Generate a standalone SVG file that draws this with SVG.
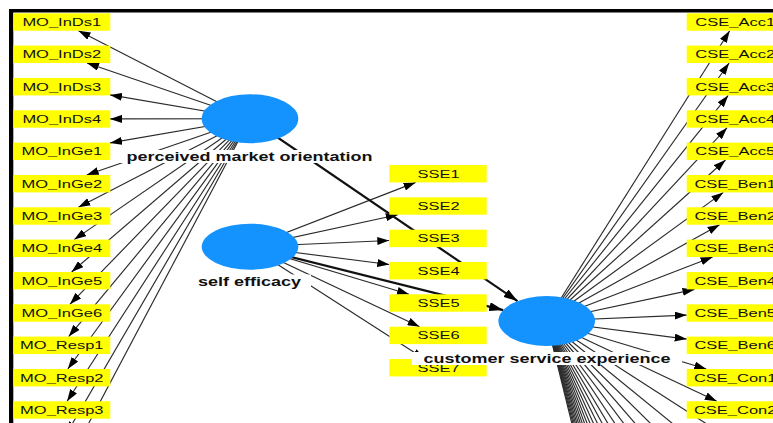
<svg xmlns="http://www.w3.org/2000/svg" width="773" height="423" viewBox="0 0 773 423">
<style>
.e{stroke:#2a2a2a;stroke-width:1.15;fill:none;marker-end:url(#a)}
.h{stroke:#2a2a2a;stroke-width:1.15;fill:none}
.t{stroke:#111;stroke-width:2.2;fill:none;marker-end:url(#b)}
.n{fill:#ffff00}
.lv{fill:#1492fe}
.nt{font-family:"Liberation Sans",Arial,sans-serif;font-size:11px;fill:#111;text-anchor:middle}
.lt{font-family:"Liberation Sans",Arial,sans-serif;font-size:12px;font-weight:bold;fill:#111;text-anchor:middle}
.bg{fill:#fff}
</style>
<defs>
<marker id="a" viewBox="0 0 12 8" refX="12" refY="4" markerWidth="12" markerHeight="8" markerUnits="userSpaceOnUse" orient="auto"><path d="M0,0L12,4L0,8z" fill="#000"/></marker>
<marker id="b" viewBox="0 0 14 9" refX="14" refY="4.5" markerWidth="14" markerHeight="9" markerUnits="userSpaceOnUse" orient="auto"><path d="M0,0L14,4.5L0,9z" fill="#000"/></marker>
</defs>
<rect width="773" height="423" fill="#fff"/>
<rect x="9" y="9" width="764" height="3.5" fill="#000"/>
<rect x="9" y="9" width="4.3" height="414" fill="#000"/>
<g id="connectors">
<line class="e" x1="250" y1="118.7" x2="78.5" y2="30.7"/>
<line class="e" x1="250" y1="118.7" x2="87" y2="63"/>
<line class="e" x1="250" y1="118.7" x2="110" y2="94.9"/>
<line class="e" x1="250" y1="118.7" x2="110" y2="118.9"/>
<line class="e" x1="250" y1="118.7" x2="110" y2="142.9"/>
<line class="e" x1="250" y1="118.7" x2="86.7" y2="175"/>
<line class="e" x1="250" y1="118.7" x2="78.4" y2="207.3"/>
<line class="e" x1="250" y1="118.7" x2="74.2" y2="239.6"/>
<line class="e" x1="250" y1="118.7" x2="71.6" y2="272"/>
<line class="e" x1="250" y1="118.7" x2="69.9" y2="304.3"/>
<line class="e" x1="250" y1="118.7" x2="68.7" y2="336.6"/>
<line class="e" x1="250" y1="118.7" x2="67.8" y2="369"/>
<line class="e" x1="250" y1="118.7" x2="67.1" y2="401.3"/>
<line class="e" x1="250" y1="118.7" x2="66.6" y2="433.6"/>
<line class="e" x1="250" y1="118.7" x2="66.1" y2="466"/>
<line class="e" x1="250" y1="246.7" x2="415.6" y2="182.4"/>
<line class="e" x1="250" y1="246.7" x2="397.8" y2="214.7"/>
<line class="e" x1="250" y1="246.7" x2="389.3" y2="240.5"/>
<line class="e" x1="250" y1="246.7" x2="389.3" y2="264.5"/>
<line class="e" x1="250" y1="246.7" x2="409" y2="294.3"/>
<line class="e" x1="250" y1="246.7" x2="419.6" y2="326.7"/>
<line class="e" x1="250" y1="246.7" x2="424.5" y2="359"/>
<line class="e" x1="546.7" y1="321" x2="729.7" y2="30.7"/>
<line class="e" x1="546.7" y1="321" x2="729.1" y2="63"/>
<line class="e" x1="546.7" y1="321" x2="728.2" y2="95.4"/>
<line class="e" x1="546.7" y1="321" x2="727.1" y2="127.7"/>
<line class="e" x1="546.7" y1="321" x2="725.5" y2="160"/>
<line class="e" x1="546.7" y1="321" x2="723.3" y2="192.4"/>
<line class="e" x1="546.7" y1="321" x2="719.6" y2="224.7"/>
<line class="e" x1="546.7" y1="321" x2="712.6" y2="257"/>
<line class="e" x1="546.7" y1="321" x2="694.5" y2="289.4"/>
<line class="e" x1="546.7" y1="321" x2="686.7" y2="315.1"/>
<line class="e" x1="546.7" y1="321" x2="686.7" y2="339.1"/>
<line class="e" x1="546.7" y1="321" x2="706.3" y2="369"/>
<line class="e" x1="546.7" y1="321" x2="716.8" y2="401.3"/>
<line class="h" x1="546.7" y1="321" x2="735.2" y2="442.3"/>
<line class="h" x1="546.7" y1="321" x2="735.2" y2="474.6"/>
<line class="h" x1="546.7" y1="321" x2="735.2" y2="507"/>
<line class="h" x1="546.7" y1="321" x2="735.2" y2="539.3"/>
<line class="h" x1="546.7" y1="321" x2="735.2" y2="571.6"/>
<line class="h" x1="546.7" y1="321" x2="735.2" y2="604"/>
<line class="h" x1="546.7" y1="321" x2="735.2" y2="636.3"/>
<line class="h" x1="546.7" y1="321" x2="735.2" y2="668.6"/>
<line class="h" x1="546.7" y1="321" x2="735.2" y2="701"/>
<line class="h" x1="546.7" y1="321" x2="735.2" y2="733.3"/>
<line class="h" x1="546.7" y1="321" x2="735.2" y2="765.6"/>
<line class="h" x1="546.7" y1="321" x2="735.2" y2="797.9"/>
<line class="h" x1="546.7" y1="321" x2="735.2" y2="830.3"/>
<line class="h" x1="546.7" y1="321" x2="735.2" y2="862.6"/>
<line class="h" x1="546.7" y1="321" x2="735.2" y2="894.9"/>
<line class="h" x1="546.7" y1="321" x2="735.2" y2="927.3"/>
<line class="h" x1="546.7" y1="321" x2="735.2" y2="959.6"/>
<line class="h" x1="546.7" y1="321" x2="735.2" y2="991.9"/>
<line class="h" x1="546.7" y1="321" x2="735.2" y2="1024.2"/>
<line class="h" x1="546.7" y1="321" x2="735.2" y2="1056.6"/>
<line class="h" x1="546.7" y1="321" x2="735.2" y2="1088.9"/>
<line class="t" x1="250" y1="118.7" x2="517.5" y2="301.1"/>
<line class="t" x1="250" y1="246.7" x2="503.2" y2="310.1"/>
</g>
<g id="MO_InDs1"><rect class="n" x="13.3" y="13.3" width="97" height="17.4"/><text class="nt" transform="translate(61.8,26) scale(1.5,1)">MO_InDs1</text></g>
<g id="MO_InDs2"><rect class="n" x="13.3" y="45.6" width="97" height="17.4"/><text class="nt" transform="translate(61.8,58.3) scale(1.5,1)">MO_InDs2</text></g>
<g id="MO_InDs3"><rect class="n" x="13.3" y="78" width="97" height="17.4"/><text class="nt" transform="translate(61.8,90.7) scale(1.5,1)">MO_InDs3</text></g>
<g id="MO_InDs4"><rect class="n" x="13.3" y="110.3" width="97" height="17.4"/><text class="nt" transform="translate(61.8,123) scale(1.5,1)">MO_InDs4</text></g>
<g id="MO_InGe1"><rect class="n" x="13.3" y="142.6" width="97" height="17.4"/><text class="nt" transform="translate(61.8,155.3) scale(1.5,1)">MO_InGe1</text></g>
<g id="MO_InGe2"><rect class="n" x="13.3" y="175" width="97" height="17.4"/><text class="nt" transform="translate(61.8,187.7) scale(1.5,1)">MO_InGe2</text></g>
<g id="MO_InGe3"><rect class="n" x="13.3" y="207.3" width="97" height="17.4"/><text class="nt" transform="translate(61.8,220) scale(1.5,1)">MO_InGe3</text></g>
<g id="MO_InGe4"><rect class="n" x="13.3" y="239.6" width="97" height="17.4"/><text class="nt" transform="translate(61.8,252.3) scale(1.5,1)">MO_InGe4</text></g>
<g id="MO_InGe5"><rect class="n" x="13.3" y="272" width="97" height="17.4"/><text class="nt" transform="translate(61.8,284.7) scale(1.5,1)">MO_InGe5</text></g>
<g id="MO_InGe6"><rect class="n" x="13.3" y="304.3" width="97" height="17.4"/><text class="nt" transform="translate(61.8,317) scale(1.5,1)">MO_InGe6</text></g>
<g id="MO_Resp1"><rect class="n" x="13.3" y="336.6" width="97" height="17.4"/><text class="nt" transform="translate(61.8,349.3) scale(1.5,1)">MO_Resp1</text></g>
<g id="MO_Resp2"><rect class="n" x="13.3" y="369" width="97" height="17.4"/><text class="nt" transform="translate(61.8,381.7) scale(1.5,1)">MO_Resp2</text></g>
<g id="MO_Resp3"><rect class="n" x="13.3" y="401.3" width="97" height="17.4"/><text class="nt" transform="translate(61.8,414) scale(1.5,1)">MO_Resp3</text></g>
<g id="SSE1"><rect class="n" x="389.3" y="165" width="97.4" height="17.4"/><text class="nt" transform="translate(438.5,177.7) scale(1.5,1)">SSE1</text></g>
<g id="SSE2"><rect class="n" x="389.3" y="197.3" width="97.4" height="17.4"/><text class="nt" transform="translate(438.5,210) scale(1.5,1)">SSE2</text></g>
<g id="SSE3"><rect class="n" x="389.3" y="229.7" width="97.4" height="17.4"/><text class="nt" transform="translate(438.5,242.4) scale(1.5,1)">SSE3</text></g>
<g id="SSE4"><rect class="n" x="389.3" y="262" width="97.4" height="17.4"/><text class="nt" transform="translate(438.5,274.7) scale(1.5,1)">SSE4</text></g>
<g id="SSE5"><rect class="n" x="389.3" y="294.3" width="97.4" height="17.4"/><text class="nt" transform="translate(438.5,307) scale(1.5,1)">SSE5</text></g>
<g id="SSE6"><rect class="n" x="389.3" y="326.7" width="97.4" height="17.4"/><text class="nt" transform="translate(438.5,339.4) scale(1.5,1)">SSE6</text></g>
<g id="SSE7"><rect class="n" x="389.3" y="359" width="97.4" height="17.4"/><text class="nt" transform="translate(438.5,371.7) scale(1.5,1)">SSE7</text></g>
<g id="CSE_Acc1"><rect class="n" x="686.7" y="13.3" width="97" height="17.4"/><text class="nt" transform="translate(735.2,26) scale(1.5,1)">CSE_Acc1</text></g>
<g id="CSE_Acc2"><rect class="n" x="686.7" y="45.6" width="97" height="17.4"/><text class="nt" transform="translate(735.2,58.3) scale(1.5,1)">CSE_Acc2</text></g>
<g id="CSE_Acc3"><rect class="n" x="686.7" y="78" width="97" height="17.4"/><text class="nt" transform="translate(735.2,90.7) scale(1.5,1)">CSE_Acc3</text></g>
<g id="CSE_Acc4"><rect class="n" x="686.7" y="110.3" width="97" height="17.4"/><text class="nt" transform="translate(735.2,123) scale(1.5,1)">CSE_Acc4</text></g>
<g id="CSE_Acc5"><rect class="n" x="686.7" y="142.6" width="97" height="17.4"/><text class="nt" transform="translate(735.2,155.3) scale(1.5,1)">CSE_Acc5</text></g>
<g id="CSE_Ben1"><rect class="n" x="686.7" y="175" width="97" height="17.4"/><text class="nt" transform="translate(735.2,187.7) scale(1.5,1)">CSE_Ben1</text></g>
<g id="CSE_Ben2"><rect class="n" x="686.7" y="207.3" width="97" height="17.4"/><text class="nt" transform="translate(735.2,220) scale(1.5,1)">CSE_Ben2</text></g>
<g id="CSE_Ben3"><rect class="n" x="686.7" y="239.6" width="97" height="17.4"/><text class="nt" transform="translate(735.2,252.3) scale(1.5,1)">CSE_Ben3</text></g>
<g id="CSE_Ben4"><rect class="n" x="686.7" y="272" width="97" height="17.4"/><text class="nt" transform="translate(735.2,284.7) scale(1.5,1)">CSE_Ben4</text></g>
<g id="CSE_Ben5"><rect class="n" x="686.7" y="304.3" width="97" height="17.4"/><text class="nt" transform="translate(735.2,317) scale(1.5,1)">CSE_Ben5</text></g>
<g id="CSE_Ben6"><rect class="n" x="686.7" y="336.6" width="97" height="17.4"/><text class="nt" transform="translate(735.2,349.3) scale(1.5,1)">CSE_Ben6</text></g>
<g id="CSE_Con1"><rect class="n" x="686.7" y="369" width="97" height="17.4"/><text class="nt" transform="translate(735.2,381.7) scale(1.5,1)">CSE_Con1</text></g>
<g id="CSE_Con2"><rect class="n" x="686.7" y="401.3" width="97" height="17.4"/><text class="nt" transform="translate(735.2,414) scale(1.5,1)">CSE_Con2</text></g>
<g id="perceived_market_orientation"><ellipse class="lv" cx="250" cy="118.7" rx="48.3" ry="24.5"/><rect class="bg" x="115" y="150" width="269" height="13"/><text class="lt" transform="translate(249.5,161) scale(1.5,1)">perceived market orientation</text></g>
<g id="self_efficacy"><ellipse class="lv" cx="250" cy="246.7" rx="48.3" ry="23"/><rect class="bg" x="188" y="274.5" width="123" height="14"/><text class="lt" transform="translate(249.5,286) scale(1.5,1)">self efficacy</text></g>
<g id="customer_service_experience"><ellipse class="lv" cx="546.7" cy="321" rx="48.3" ry="25"/><rect class="bg" x="412" y="352" width="270" height="13"/><text class="lt" transform="translate(547,362.5) scale(1.5,1)">customer service experience</text></g>
</svg>
